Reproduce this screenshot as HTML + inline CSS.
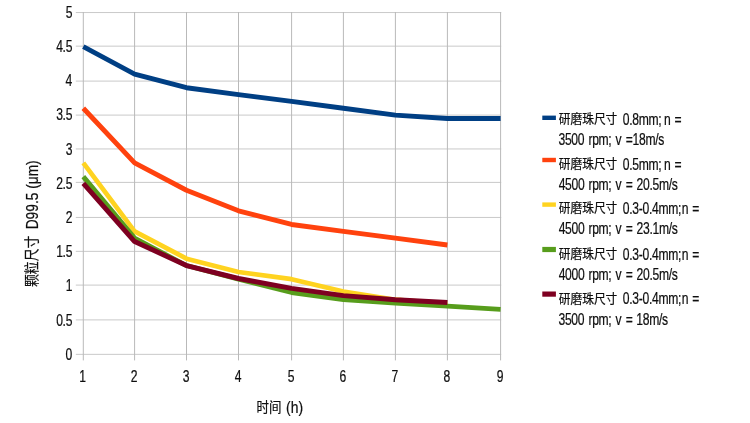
<!DOCTYPE html>
<html lang="zh"><head><meta charset="utf-8"><title>颗粒尺寸 D99.5 – 时间</title>
<style>html,body{margin:0;padding:0;background:#fff;overflow:hidden;}svg{display:block;}.soft{filter:blur(0.4px);}text{fill:#0e0e0e;stroke:#0e0e0e;stroke-width:0.22px;}</style></head><body>
<svg width="750" height="423" viewBox="0 0 750 423">
<rect width="750" height="423" fill="#fff"/>
<g stroke="#c9c9c9" stroke-width="1" fill="none">
<line x1="75.80" y1="354.35" x2="501.20" y2="354.35"/>
<line x1="75.80" y1="319.90" x2="501.20" y2="319.90"/>
<line x1="75.80" y1="285.10" x2="501.20" y2="285.10"/>
<line x1="75.80" y1="251.35" x2="501.20" y2="251.35"/>
<line x1="75.80" y1="217.45" x2="501.20" y2="217.45"/>
<line x1="75.80" y1="182.40" x2="501.20" y2="182.40"/>
<line x1="75.80" y1="148.95" x2="501.20" y2="148.95"/>
<line x1="75.80" y1="115.10" x2="501.20" y2="115.10"/>
<line x1="75.80" y1="81.10" x2="501.20" y2="81.10"/>
<line x1="75.80" y1="46.15" x2="501.20" y2="46.15"/>
<line x1="75.80" y1="12.55" x2="501.20" y2="12.55"/>
</g>
<g stroke="#b9b9b9" stroke-width="1" fill="none">
<line x1="83.30" y1="12.00" x2="83.30" y2="360.40"/>
<line x1="134.60" y1="12.00" x2="134.60" y2="360.40"/>
<line x1="186.50" y1="12.00" x2="186.50" y2="360.40"/>
<line x1="238.50" y1="12.00" x2="238.50" y2="360.40"/>
<line x1="291.60" y1="12.00" x2="291.60" y2="360.40"/>
<line x1="343.40" y1="12.00" x2="343.40" y2="360.40"/>
<line x1="395.40" y1="12.00" x2="395.40" y2="360.40"/>
<line x1="447.40" y1="12.00" x2="447.40" y2="360.40"/>
<line x1="500.60" y1="12.00" x2="500.60" y2="360.40"/>
</g>
<g class="soft">
<polyline points="83.30,46.69 134.60,74.04 186.50,87.72 238.50,94.56 291.60,101.39 343.40,108.23 395.40,115.07 447.40,118.49 500.60,118.49" fill="none" stroke="#003f84" stroke-width="4.9" stroke-linejoin="round" stroke-linecap="butt"/>
<polyline points="83.30,108.23 134.60,162.94 186.50,190.29 238.50,210.80 291.60,224.48 343.40,231.32 395.40,238.15 447.40,244.99" fill="none" stroke="#ff420e" stroke-width="4.9" stroke-linejoin="round" stroke-linecap="butt"/>
<polyline points="83.30,162.94 134.60,231.32 186.50,258.67 238.50,272.00 291.60,279.18 343.40,291.49 395.40,299.70 447.40,303.80" fill="none" stroke="#ffd320" stroke-width="4.7" stroke-linejoin="round" stroke-linecap="butt"/>
<polyline points="83.30,176.61 134.60,238.15 186.50,265.51 238.50,279.18 291.60,292.52 343.40,299.70 395.40,303.12 447.40,306.19 500.60,309.47" fill="none" stroke="#579d1c" stroke-width="4.8" stroke-linejoin="round" stroke-linecap="butt"/>
<polyline points="83.30,183.45 134.60,241.57 186.50,265.51 238.50,278.50 291.60,288.41 343.40,295.59 395.40,299.70 447.40,302.43" fill="none" stroke="#7e0021" stroke-width="4.9" stroke-linejoin="round" stroke-linecap="butt"/>
<text font-family='"Liberation Sans", sans-serif' font-size="16.0" transform="translate(65.59,359.70) scale(0.758,1)" letter-spacing="-0.4">0</text>
<text font-family='"Liberation Sans", sans-serif' font-size="16.0" transform="translate(56.13,325.51) scale(0.758,1)" letter-spacing="-0.4">0.5</text>
<text font-family='"Liberation Sans", sans-serif' font-size="16.0" transform="translate(65.71,291.32) scale(0.758,1)" letter-spacing="-0.4">1</text>
<text font-family='"Liberation Sans", sans-serif' font-size="16.0" transform="translate(56.13,257.13) scale(0.758,1)" letter-spacing="-0.4">1.5</text>
<text font-family='"Liberation Sans", sans-serif' font-size="16.0" transform="translate(65.71,222.94) scale(0.758,1)" letter-spacing="-0.4">2</text>
<text font-family='"Liberation Sans", sans-serif' font-size="16.0" transform="translate(56.13,188.75) scale(0.758,1)" letter-spacing="-0.4">2.5</text>
<text font-family='"Liberation Sans", sans-serif' font-size="16.0" transform="translate(65.65,154.56) scale(0.758,1)" letter-spacing="-0.4">3</text>
<text font-family='"Liberation Sans", sans-serif' font-size="16.0" transform="translate(56.13,120.37) scale(0.758,1)" letter-spacing="-0.4">3.5</text>
<text font-family='"Liberation Sans", sans-serif' font-size="16.0" transform="translate(65.47,86.18) scale(0.758,1)" letter-spacing="-0.4">4</text>
<text font-family='"Liberation Sans", sans-serif' font-size="16.0" transform="translate(56.13,51.99) scale(0.758,1)" letter-spacing="-0.4">4.5</text>
<text font-family='"Liberation Sans", sans-serif' font-size="16.0" transform="translate(65.65,17.80) scale(0.758,1)" letter-spacing="-0.4">5</text>
<text font-family='"Liberation Sans", sans-serif' font-size="16.0" transform="translate(79.25,381.90) scale(0.758,1)" letter-spacing="-0.4">1</text>
<text font-family='"Liberation Sans", sans-serif' font-size="16.0" transform="translate(130.70,381.90) scale(0.758,1)" letter-spacing="-0.4">2</text>
<text font-family='"Liberation Sans", sans-serif' font-size="16.0" transform="translate(182.66,381.90) scale(0.758,1)" letter-spacing="-0.4">3</text>
<text font-family='"Liberation Sans", sans-serif' font-size="16.0" transform="translate(234.66,381.90) scale(0.758,1)" letter-spacing="-0.4">4</text>
<text font-family='"Liberation Sans", sans-serif' font-size="16.0" transform="translate(287.73,381.90) scale(0.758,1)" letter-spacing="-0.4">5</text>
<text font-family='"Liberation Sans", sans-serif' font-size="16.0" transform="translate(339.47,381.90) scale(0.758,1)" letter-spacing="-0.4">6</text>
<text font-family='"Liberation Sans", sans-serif' font-size="16.0" transform="translate(391.50,381.90) scale(0.758,1)" letter-spacing="-0.4">7</text>
<text font-family='"Liberation Sans", sans-serif' font-size="16.0" transform="translate(443.53,381.90) scale(0.758,1)" letter-spacing="-0.4">8</text>
<text font-family='"Liberation Sans", sans-serif' font-size="16.0" transform="translate(496.73,381.90) scale(0.758,1)" letter-spacing="-0.4">9</text>
<text font-family='"Liberation Sans", "Noto Sans CJK SC", sans-serif' font-size="14.1" transform="translate(256.50,411.70) scale(0.885,1)">时间</text>
<text font-family='"Liberation Sans", sans-serif' font-size="16.6" transform="translate(286.06,412.80) scale(0.84,1)">(h)</text>
<text font-family='"Liberation Sans", "Noto Sans CJK SC", sans-serif' font-size="16.1" transform="translate(36.60,287.05) rotate(-90) scale(0.8,0.9)">颗粒尺寸</text>
<text font-family='"Liberation Sans", sans-serif' font-size="16.4" transform="translate(37.70,229.30) rotate(-90) scale(0.838,1)">D99.5 (μm)</text>
<rect x="542.3" y="115.60" width="13.6" height="4.40" fill="#003f84"/>
<text font-family='"Liberation Sans", "Noto Sans CJK SC", sans-serif' font-size="13" transform="translate(558.85,123.20) scale(0.9,1)">研磨珠尺寸</text>
<text font-family='"Liberation Sans", sans-serif' font-size="16.0" transform="translate(622.78,124.90) scale(0.758,1)" letter-spacing="-0.4">0.8mm;</text>
<text font-family='"Liberation Sans", sans-serif' font-size="16.0" transform="translate(664.11,124.90) scale(0.758,1)" letter-spacing="-0.4">n</text>
<text font-family='"Liberation Sans", sans-serif' font-size="16.0" transform="translate(674.45,124.90) scale(0.758,1)" letter-spacing="-0.4">=</text>
<text font-family='"Liberation Sans", sans-serif' font-size="16.0" transform="translate(558.48,145.10) scale(0.758,1)" letter-spacing="-0.4">3500</text>
<text font-family='"Liberation Sans", sans-serif' font-size="16.0" transform="translate(588.41,145.10) scale(0.758,1)" letter-spacing="-0.4">rpm;</text>
<text font-family='"Liberation Sans", sans-serif' font-size="16.0" transform="translate(615.60,145.10) scale(0.758,1)" letter-spacing="-0.4">v</text>
<text font-family='"Liberation Sans", sans-serif' font-size="16.0" transform="translate(625.75,145.10) scale(0.758,1)" letter-spacing="-0.4">=18m/s</text>
<rect x="542.3" y="157.80" width="13.6" height="4.40" fill="#ff420e"/>
<text font-family='"Liberation Sans", "Noto Sans CJK SC", sans-serif' font-size="13" transform="translate(558.85,168.00) scale(0.9,1)">研磨珠尺寸</text>
<text font-family='"Liberation Sans", sans-serif' font-size="16.0" transform="translate(622.78,169.70) scale(0.758,1)" letter-spacing="-0.4">0.5mm;</text>
<text font-family='"Liberation Sans", sans-serif' font-size="16.0" transform="translate(664.11,169.70) scale(0.758,1)" letter-spacing="-0.4">n</text>
<text font-family='"Liberation Sans", sans-serif' font-size="16.0" transform="translate(674.45,169.70) scale(0.758,1)" letter-spacing="-0.4">=</text>
<text font-family='"Liberation Sans", sans-serif' font-size="16.0" transform="translate(558.66,189.90) scale(0.758,1)" letter-spacing="-0.4">4500</text>
<text font-family='"Liberation Sans", sans-serif' font-size="16.0" transform="translate(588.41,189.90) scale(0.758,1)" letter-spacing="-0.4">rpm;</text>
<text font-family='"Liberation Sans", sans-serif' font-size="16.0" transform="translate(615.60,189.90) scale(0.758,1)" letter-spacing="-0.4">v</text>
<text font-family='"Liberation Sans", sans-serif' font-size="16.0" transform="translate(625.85,189.90) scale(0.758,1)" letter-spacing="-0.4">=</text>
<text font-family='"Liberation Sans", sans-serif' font-size="16.0" transform="translate(636.59,189.90) scale(0.758,1)" letter-spacing="-0.4">20.5m/s</text>
<rect x="542.3" y="202.40" width="13.6" height="4.40" fill="#ffd320"/>
<text font-family='"Liberation Sans", "Noto Sans CJK SC", sans-serif' font-size="13" transform="translate(558.85,212.10) scale(0.9,1)">研磨珠尺寸</text>
<text font-family='"Liberation Sans", sans-serif' font-size="16.0" transform="translate(622.78,213.80) scale(0.758,1)" letter-spacing="-0.4">0.3-0.4mm;</text>
<text font-family='"Liberation Sans", sans-serif' font-size="16.0" transform="translate(681.71,213.80) scale(0.758,1)" letter-spacing="-0.4">n</text>
<text font-family='"Liberation Sans", sans-serif' font-size="16.0" transform="translate(692.15,213.80) scale(0.758,1)" letter-spacing="-0.4">=</text>
<text font-family='"Liberation Sans", sans-serif' font-size="16.0" transform="translate(558.66,234.00) scale(0.758,1)" letter-spacing="-0.4">4500</text>
<text font-family='"Liberation Sans", sans-serif' font-size="16.0" transform="translate(588.41,234.00) scale(0.758,1)" letter-spacing="-0.4">rpm;</text>
<text font-family='"Liberation Sans", sans-serif' font-size="16.0" transform="translate(615.60,234.00) scale(0.758,1)" letter-spacing="-0.4">v</text>
<text font-family='"Liberation Sans", sans-serif' font-size="16.0" transform="translate(625.85,234.00) scale(0.758,1)" letter-spacing="-0.4">=</text>
<text font-family='"Liberation Sans", sans-serif' font-size="16.0" transform="translate(636.59,234.00) scale(0.758,1)" letter-spacing="-0.4">23.1m/s</text>
<rect x="542.3" y="246.90" width="13.6" height="5.20" fill="#579d1c"/>
<text font-family='"Liberation Sans", "Noto Sans CJK SC", sans-serif' font-size="13" transform="translate(558.85,258.10) scale(0.9,1)">研磨珠尺寸</text>
<text font-family='"Liberation Sans", sans-serif' font-size="16.0" transform="translate(622.78,259.80) scale(0.758,1)" letter-spacing="-0.4">0.3-0.4mm;</text>
<text font-family='"Liberation Sans", sans-serif' font-size="16.0" transform="translate(681.71,259.80) scale(0.758,1)" letter-spacing="-0.4">n</text>
<text font-family='"Liberation Sans", sans-serif' font-size="16.0" transform="translate(692.15,259.80) scale(0.758,1)" letter-spacing="-0.4">=</text>
<text font-family='"Liberation Sans", sans-serif' font-size="16.0" transform="translate(558.66,280.00) scale(0.758,1)" letter-spacing="-0.4">4000</text>
<text font-family='"Liberation Sans", sans-serif' font-size="16.0" transform="translate(588.41,280.00) scale(0.758,1)" letter-spacing="-0.4">rpm;</text>
<text font-family='"Liberation Sans", sans-serif' font-size="16.0" transform="translate(615.60,280.00) scale(0.758,1)" letter-spacing="-0.4">v</text>
<text font-family='"Liberation Sans", sans-serif' font-size="16.0" transform="translate(625.85,280.00) scale(0.758,1)" letter-spacing="-0.4">=</text>
<text font-family='"Liberation Sans", sans-serif' font-size="16.0" transform="translate(636.59,280.00) scale(0.758,1)" letter-spacing="-0.4">20.5m/s</text>
<rect x="542.3" y="291.50" width="13.6" height="5.20" fill="#7e0021"/>
<text font-family='"Liberation Sans", "Noto Sans CJK SC", sans-serif' font-size="13" transform="translate(558.85,302.70) scale(0.9,1)">研磨珠尺寸</text>
<text font-family='"Liberation Sans", sans-serif' font-size="16.0" transform="translate(622.78,304.40) scale(0.758,1)" letter-spacing="-0.4">0.3-0.4mm;</text>
<text font-family='"Liberation Sans", sans-serif' font-size="16.0" transform="translate(681.71,304.40) scale(0.758,1)" letter-spacing="-0.4">n</text>
<text font-family='"Liberation Sans", sans-serif' font-size="16.0" transform="translate(692.15,304.40) scale(0.758,1)" letter-spacing="-0.4">=</text>
<text font-family='"Liberation Sans", sans-serif' font-size="16.0" transform="translate(558.48,324.60) scale(0.758,1)" letter-spacing="-0.4">3500</text>
<text font-family='"Liberation Sans", sans-serif' font-size="16.0" transform="translate(588.41,324.60) scale(0.758,1)" letter-spacing="-0.4">rpm;</text>
<text font-family='"Liberation Sans", sans-serif' font-size="16.0" transform="translate(615.60,324.60) scale(0.758,1)" letter-spacing="-0.4">v</text>
<text font-family='"Liberation Sans", sans-serif' font-size="16.0" transform="translate(625.85,324.60) scale(0.758,1)" letter-spacing="-0.4">=</text>
<text font-family='"Liberation Sans", sans-serif' font-size="16.0" transform="translate(636.29,324.60) scale(0.758,1)" letter-spacing="-0.4">18m/s</text>
</g>
</svg></body></html>
